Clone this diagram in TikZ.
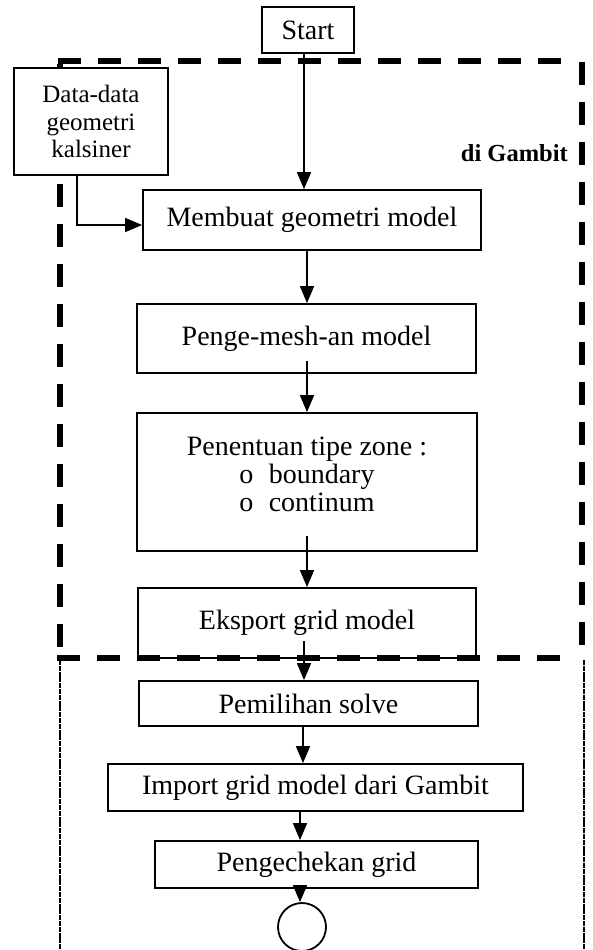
\documentclass[tikz,border=0pt]{standalone}
\usepackage{fontspec}
\setmainfont{Liberation Serif}
\usetikzlibrary{arrows.meta,calc}
\begin{document}
\begin{tikzpicture}[x=1pt,y=-1pt,
  box/.style={draw, line width=1.8pt, fill=white, inner sep=0pt, align=center, font=\fontsize{28}{28}\selectfont},
  txt/.style={inner sep=0pt, align=center, font=\fontsize{28}{28}\selectfont},
  arr/.style={line width=1.7pt, -{Triangle[length=17pt,width=14pt]}},
  bigdash/.style={line width=5.5pt, dash pattern=on 23pt off 17pt},
  thinline/.style={line width=1.4pt, dash pattern=on 5pt off 0.8pt}]
\useasboundingbox (0,0) rectangle (593,950);
\clip (0,0) rectangle (593,950);
% dashed frame of the Gambit part
\draw[bigdash] (58,61) -- (575,61);
\draw[bigdash] (582,62) -- (582,652);
\draw[bigdash] (60,64) -- (60,658);
% thin frame of the lower part
\draw[thinline] (60,660) -- (60,950);
\draw[thinline] (584,660) -- (584,950);
% nodes
\node[box, minimum width=92pt, minimum height=46pt] (start) at (308,30) {Start};
\node[box, minimum width=154pt, minimum height=107pt, font=\fontsize{25}{27.5}\selectfont] (data) at (91,121.5) {Data-data\\geometri\\kalsiner};
\node[inner sep=0pt, anchor=east, font=\fontsize{24.5}{25}\selectfont\bfseries] (gambit) at (568,153) {di Gambit};
\node[box, minimum width=338pt, minimum height=60pt] (membuat) at (312,220) {Membuat geometri model};
\node[box, minimum width=339pt, minimum height=69pt] (penge) at (306.5,338.5) {Penge-mesh-an model};
\node[box, minimum width=340pt, minimum height=138pt] (penentuan) at (307,482) {};
\node[txt] (pentext) at (307,474) {Penentuan tipe zone :\\o\hspace{0.55em}boundary\\o\hspace{0.55em}continum};
\node[box, minimum width=338pt, minimum height=70pt] (eksport) at (307,623) {Eksport grid model};
\node[box, minimum width=339pt, minimum height=45pt] (pemilihan) at (308.5,703.5) {Pemilihan solve};
\node[box, minimum width=415pt, minimum height=47pt] (import) at (315.5,787.5) {Import grid model dari Gambit};
\node[box, minimum width=323pt, minimum height=47pt] (cek) at (316.5,864.5) {Pengechekan grid};
\node[draw, circle, line width=1.8pt, minimum size=48pt, inner sep=0pt] (circ) at (302,927) {};
% boundary line between parts
\draw[bigdash] (57,658) -- (572,658);
% connectors
\draw[arr] ([xshift=-4pt]start.south) -- ([xshift=-4pt]start.south |- membuat.north);
\draw[arr] ([xshift=-14pt]data.south) |- ([yshift=-5pt]membuat.west);
\draw[arr] ([xshift=-5pt]membuat.south) -- ([xshift=-5pt]membuat.south |- penge.north);
\draw[arr] ([xshift=0.5pt,yshift=13pt]penge.south) -- ([xshift=0.5pt]penge.south |- penentuan.north);
\draw[arr] ([yshift=16pt]penentuan.south) -- (penentuan.south |- eksport.north);
\draw[arr] ([xshift=-3pt,yshift=18pt]eksport.south) -- ([xshift=-3pt]eksport.south |- pemilihan.north);
\draw[arr] ([xshift=-5.5pt]pemilihan.south) -- ([xshift=-5.5pt]pemilihan.south |- import.north);
\draw[arr] ([xshift=-15.5pt]import.south) -- ([xshift=-15.5pt]import.south |- cek.north);
\draw[arr] ([xshift=-16.5pt,yshift=3pt]cek.south) -- ([xshift=-16.5pt]cek.south |- circ.north);
\end{tikzpicture}
\end{document}
